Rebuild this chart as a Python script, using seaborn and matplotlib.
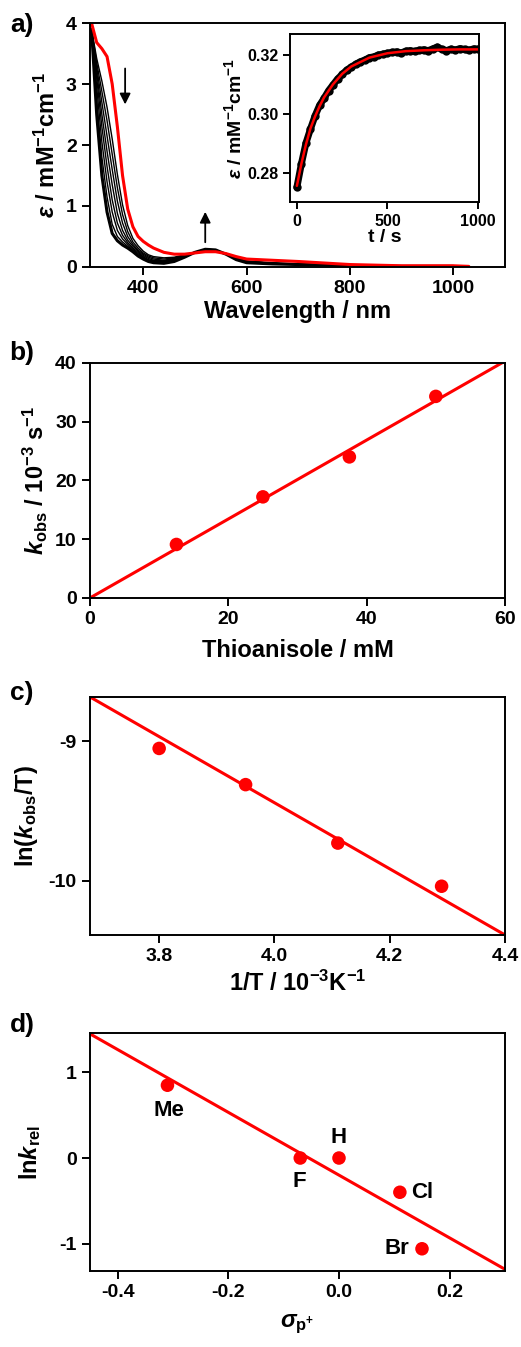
import numpy as np
import pandas as pd
import matplotlib.pyplot as plt
import seaborn as sns

# ---- panel a: UV-vis spectra (red = start, black = during reaction) ----
wavelength = [300, 310, 320, 330, 340, 350, 360, 370, 380, 390, 400, 410, 420,
              440, 460, 480, 500, 520, 540, 560, 580, 600, 650, 700, 800, 900, 1000]
spec_black = {
    'b1': [3.90, 2.50, 1.50, 0.90, 0.55, 0.43, 0.36, 0.31, 0.25, 0.18, 0.13, 0.09, 0.07,
           0.06, 0.09, 0.16, 0.24, 0.29, 0.28, 0.21, 0.12, 0.07, 0.05, 0.04, 0.02, 0.01, 0.01],
    'b2': [3.90, 2.75, 1.80, 1.15, 0.70, 0.50, 0.41, 0.34, 0.27, 0.20, 0.14, 0.10, 0.08,
           0.07, 0.10, 0.17, 0.24, 0.29, 0.28, 0.21, 0.13, 0.08, 0.05, 0.04, 0.02, 0.01, 0.01],
    'b3': [3.90, 2.95, 2.05, 1.40, 0.90, 0.60, 0.46, 0.37, 0.29, 0.22, 0.16, 0.11, 0.09,
           0.08, 0.11, 0.17, 0.24, 0.28, 0.28, 0.21, 0.13, 0.08, 0.05, 0.04, 0.02, 0.01, 0.01],
    'b4': [3.90, 3.10, 2.30, 1.65, 1.10, 0.72, 0.52, 0.40, 0.31, 0.24, 0.17, 0.12, 0.10,
           0.09, 0.12, 0.18, 0.24, 0.28, 0.27, 0.21, 0.13, 0.08, 0.06, 0.04, 0.02, 0.01, 0.01],
    'b5': [3.90, 3.20, 2.50, 1.90, 1.35, 0.88, 0.60, 0.44, 0.34, 0.26, 0.19, 0.14, 0.11,
           0.10, 0.13, 0.18, 0.24, 0.28, 0.27, 0.21, 0.14, 0.09, 0.06, 0.04, 0.02, 0.01, 0.01],
    'b6': [3.90, 3.28, 2.70, 2.15, 1.60, 1.08, 0.72, 0.50, 0.37, 0.28, 0.21, 0.16, 0.13,
           0.11, 0.14, 0.19, 0.24, 0.27, 0.27, 0.21, 0.14, 0.09, 0.06, 0.04, 0.02, 0.01, 0.01],
    'b7': [3.90, 3.35, 2.88, 2.40, 1.85, 1.30, 0.86, 0.58, 0.41, 0.31, 0.23, 0.18, 0.15,
           0.13, 0.15, 0.19, 0.24, 0.27, 0.26, 0.21, 0.14, 0.09, 0.06, 0.05, 0.02, 0.01, 0.01],
    'b8': [3.90, 3.42, 3.05, 2.62, 2.10, 1.52, 1.02, 0.68, 0.47, 0.35, 0.26, 0.20, 0.17,
           0.15, 0.16, 0.20, 0.24, 0.27, 0.26, 0.21, 0.15, 0.10, 0.07, 0.05, 0.02, 0.01, 0.01],
}
wavelength_red = wavelength + [1030]
spec_red = [4.00, 3.68, 3.58, 3.45, 3.00, 2.30, 1.50, 0.95, 0.66, 0.50, 0.42, 0.36, 0.31,
            0.24, 0.21, 0.21, 0.23, 0.25, 0.25, 0.22, 0.17, 0.13, 0.11, 0.09, 0.04, 0.02, 0.02, 0.01]

# inset: kinetic trace at 520 nm
t_raw = [0, 25, 50, 75, 100, 125, 150, 175, 200, 225, 250, 275, 300, 325, 350, 375, 400,
         425, 450, 475, 500, 525, 550, 575, 600, 625, 650, 675, 700, 725, 750, 775, 800,
         825, 850, 875, 900, 925, 950, 975, 1000]
eps_raw = [0.2750, 0.2830, 0.2900, 0.2948, 0.2992, 0.3028, 0.3052, 0.3078, 0.3098, 0.3118,
           0.3133, 0.3148, 0.3158, 0.3168, 0.3176, 0.3182, 0.3190, 0.3193, 0.3199, 0.3202,
           0.3205, 0.3208, 0.3210, 0.3206, 0.3212, 0.3214, 0.3211, 0.3215, 0.3217, 0.3214,
           0.3220, 0.3226, 0.3218, 0.3214, 0.3219, 0.3216, 0.3221, 0.3218, 0.3215, 0.3220, 0.3219]
t_fit = [0, 25, 50, 75, 100, 125, 150, 200, 250, 300, 400, 500, 600, 700, 800, 900, 1000]
eps_fit = [0.2755, 0.2830, 0.2895, 0.2950, 0.2990, 0.3025, 0.3055, 0.3100, 0.3135, 0.3160,
           0.3190, 0.3205, 0.3212, 0.3215, 0.3217, 0.3218, 0.3218]

# ---- panel b: kobs vs thioanisole ----
thio_conc = [12.5, 25.0, 37.5, 50.0]
kobs = [9.1, 17.2, 24.0, 34.3]
fit_b_x = [0, 60]
fit_b_y = [0, 40.3]

# ---- panel c: Eyring ----
inv_T = [3.80, 3.95, 4.11, 4.29]
ln_kT = [-9.05, -9.31, -9.73, -10.04]
fit_c_x = [3.68, 4.40]
fit_c_y = [-8.68, -10.39]

# ---- panel d: Hammett ----
substituents = ['Me', 'F', 'H', 'Cl', 'Br']
sigma_p = [-0.31, -0.07, 0.0, 0.11, 0.15]
ln_krel = [0.85, 0.0, 0.0, -0.40, -1.06]
label_x = [-0.308, -0.072, 0.0, 0.151, 0.104]
label_y = [0.55, -0.27, 0.24, -0.40, -1.06]
fit_d_x = [-0.45, 0.30]
fit_d_y = [1.45, -1.30]

RED = '#ff0000'

sns.set_style('ticks')
plt.rcParams.update({
    'font.family': ['Liberation Sans', 'DejaVu Sans'],
    'font.weight': 'bold',
    'axes.labelweight': 'bold',
    'axes.unicode_minus': False,
    'mathtext.fontset': 'custom',
    'mathtext.rm': 'Liberation Sans:bold',
    'mathtext.it': 'Liberation Sans:bold:italic',
    'mathtext.bf': 'Liberation Sans:bold',
    'axes.linewidth': 1.4,
    'xtick.direction': 'out',
    'ytick.direction': 'out',
    'xtick.major.size': 6,
    'ytick.major.size': 6,
    'xtick.major.width': 1.4,
    'ytick.major.width': 1.4,
    'xtick.labelsize': 14,
    'ytick.labelsize': 14,
    'axes.labelsize': 17,
    'axes.edgecolor': 'black',
    'axes.labelcolor': 'black',
    'text.color': 'black',
    'xtick.color': 'black',
    'ytick.color': 'black',
})

fig = plt.figure(figsize=(5.21, 13.47), dpi=100)
L, W = 0.1727, 0.7966
ax_a = fig.add_axes([L, 0.8018, W, 0.1811])
ax_b = fig.add_axes([L, 0.5561, W, 0.1745])
ax_c = fig.add_axes([L, 0.3059, W, 0.1767])
ax_d = fig.add_axes([L, 0.0564, W, 0.1767])
ax_in = fig.add_axes([0.5566, 0.8500, 0.3628, 0.1247])

# panel a
black_df = pd.DataFrame(
    [(name, wl, e) for name, vals in spec_black.items() for wl, e in zip(wavelength, vals)],
    columns=['scan', 'wavelength', 'eps'])
sns.lineplot(data=black_df, x='wavelength', y='eps', units='scan', estimator=None,
             color='black', lw=1.0, ax=ax_a)
sns.lineplot(x=wavelength, y=spec_black['b1'], color='black', lw=2.2, ax=ax_a)
sns.lineplot(x=wavelength_red, y=spec_red, color=RED, lw=2.2, ax=ax_a)
ax_a.annotate('', xy=(365, 2.62), xytext=(365, 3.30),
              arrowprops=dict(arrowstyle='-|>', color='black', lw=1.3, mutation_scale=16))
ax_a.annotate('', xy=(520, 0.95), xytext=(520, 0.36),
              arrowprops=dict(arrowstyle='-|>', color='black', lw=1.3, mutation_scale=16))
ax_a.set_xlim(297, 1100)
ax_a.set_ylim(0, 4)
ax_a.set_xticks([400, 600, 800, 1000])
ax_a.set_yticks([0, 1, 2, 3, 4])
ax_a.set_xlabel('Wavelength / nm', labelpad=2)
ax_a.set_ylabel(r'$\mathit{ε}$ / mM$^{-1}$cm$^{-1}$', labelpad=4)

# inset
sns.lineplot(x=t_raw, y=eps_raw, color='black', lw=5, marker='o', markersize=6,
             markeredgewidth=0, ax=ax_in)
sns.lineplot(x=t_fit, y=eps_fit, color=RED, lw=1.8, ax=ax_in)
ax_in.set_xlim(-38, 1005)
ax_in.set_ylim(0.270, 0.327)
ax_in.set_xticks([0, 500, 1000])
ax_in.set_yticks([0.28, 0.30, 0.32])
ax_in.tick_params(labelsize=11.5, length=5)
ax_in.set_xlabel('t / s', fontsize=14, labelpad=0)
ax_in.set_ylabel(r'$\mathit{ε}$ / mM$^{-1}$cm$^{-1}$', fontsize=14, labelpad=1)

# panel b
sns.lineplot(x=fit_b_x, y=fit_b_y, color=RED, lw=2.2, ax=ax_b)
sns.scatterplot(x=thio_conc, y=kobs, color=RED, s=95, edgecolor='none', ax=ax_b, zorder=3)
ax_b.set_xlim(0, 60)
ax_b.set_ylim(0, 40)
ax_b.set_xticks([0, 20, 40, 60])
ax_b.set_yticks([0, 10, 20, 30, 40])
ax_b.set_xlabel('Thioanisole / mM', labelpad=8)
ax_b.set_ylabel(r'$k_{\mathrm{obs}}$ / 10$^{-3}$ s$^{-1}$', labelpad=4)

# panel c
sns.lineplot(x=fit_c_x, y=fit_c_y, color=RED, lw=2.2, ax=ax_c)
sns.scatterplot(x=inv_T, y=ln_kT, color=RED, s=95, edgecolor='none', ax=ax_c, zorder=3)
ax_c.set_xlim(3.68, 4.40)
ax_c.set_ylim(-10.39, -8.68)
ax_c.set_xticks([3.8, 4.0, 4.2, 4.4])
ax_c.set_yticks([-10, -9])
ax_c.set_xlabel(r'1/T / 10$^{-3}$K$^{-1}$', labelpad=4)
ax_c.set_ylabel(r'ln($k_{\mathrm{obs}}$/T)', labelpad=6)

# panel d
sns.lineplot(x=fit_d_x, y=fit_d_y, color=RED, lw=2.2, ax=ax_d)
sns.scatterplot(x=sigma_p, y=ln_krel, color=RED, s=95, edgecolor='none', ax=ax_d, zorder=3)
for name, lx, ly in zip(substituents, label_x, label_y):
    ax_d.text(lx, ly, name, fontsize=16, fontweight='bold', ha='center', va='center')
ax_d.set_xlim(-0.45, 0.30)
ax_d.set_ylim(-1.32, 1.46)
ax_d.set_xticks([-0.4, -0.2, 0.0, 0.2])
ax_d.set_yticks([-1, 0, 1])
ax_d.set_xlabel(r'$\mathit{σ}_{\mathrm{p}^{+}}$', labelpad=8)
ax_d.set_ylabel(r'ln$k_{\mathrm{rel}}$', labelpad=12)

for ax in [ax_a, ax_b, ax_c, ax_d, ax_in]:
    for s in ax.spines.values():
        s.set_visible(True)
    ax.tick_params(top=False, right=False)
ax_d.xaxis.set_major_formatter(plt.FormatStrFormatter('%.1f'))
ax_c.xaxis.set_major_formatter(plt.FormatStrFormatter('%.1f'))
ax_in.yaxis.set_major_formatter(plt.FormatStrFormatter('%.2f'))

for lab, y in zip(['a)', 'b)', 'c)', 'd)'], [0.9814, 0.738, 0.4855, 0.239]):
    fig.text(0.042, y, lab, fontsize=19, fontweight='bold', ha='center', va='center')

fig.savefig('out.png', dpi=100)
